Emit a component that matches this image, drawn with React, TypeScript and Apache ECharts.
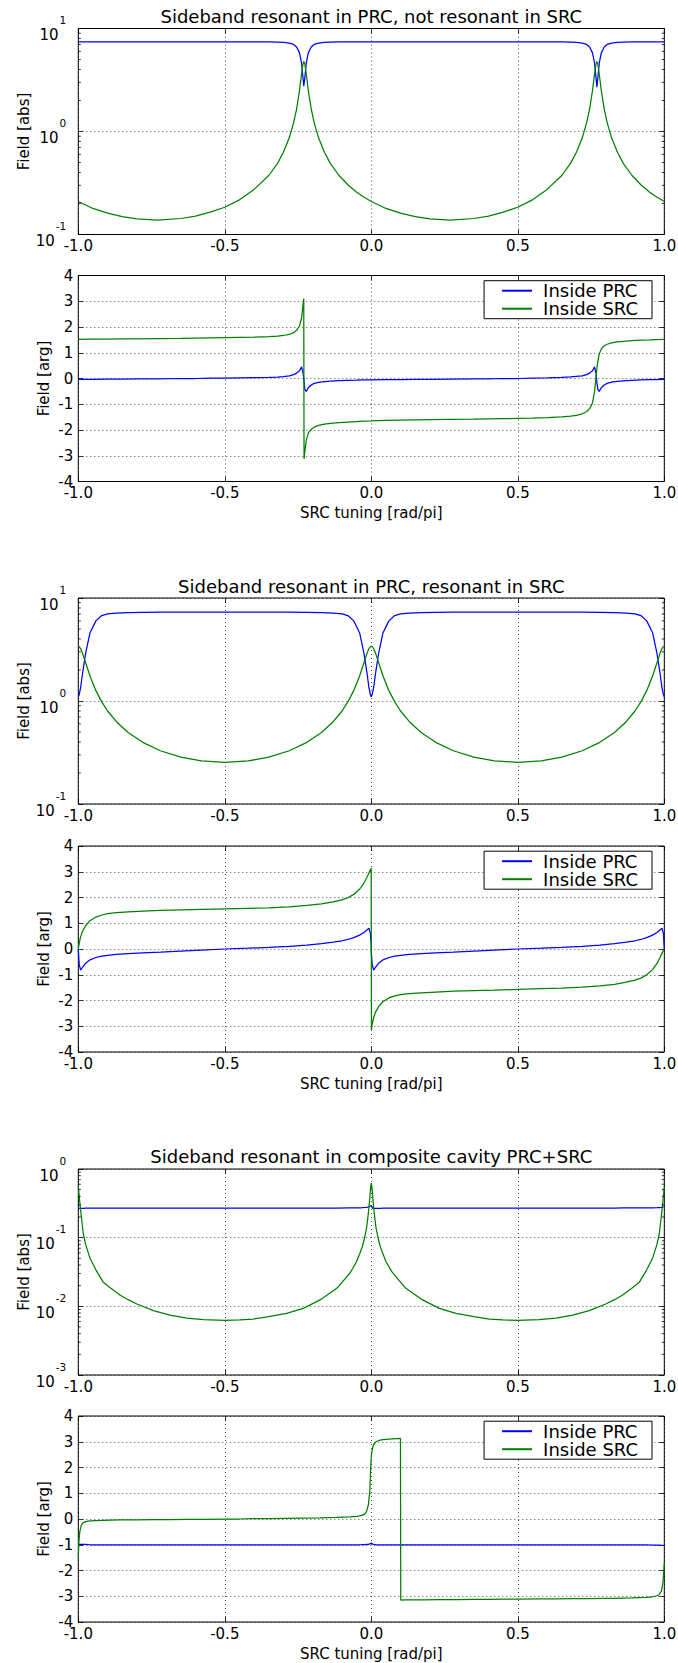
import React, { useEffect, useRef } from 'react';
import * as echarts from 'echarts';

const FONT = 'DejaVu Sans';
const BLUE = '#0000ff';
const GREEN = '#008000';

const titles = [
  'Sideband resonant in PRC, not resonant in SRC',
  'Sideband resonant in PRC, resonant in SRC',
  'Sideband resonant in composite cavity PRC+SRC',
];
const legendNames = ['Inside PRC', 'Inside SRC'];
const xName = 'SRC tuning [rad/pi]';
const absName = 'Field [abs]';
const argName = 'Field [arg]';

// ---------- figure 1 ----------
const xA = [
  -1.0, -0.95, -0.9, -0.85, -0.8, -0.73, -0.65, -0.6, -0.55, -0.5,
  -0.45, -0.4, -0.35, -0.32, -0.3, -0.28, -0.265, -0.255, -0.245, -0.238,
  -0.233, -0.2305, -0.2295, -0.227, -0.222, -0.215, -0.205, -0.195, -0.18, -0.16,
  -0.14, -0.11, -0.08, -0.05, -0.03, 0.0, 0.05, 0.1, 0.15, 0.2,
  0.27, 0.35, 0.4, 0.45, 0.5, 0.55, 0.6, 0.65, 0.68, 0.7,
  0.72, 0.735, 0.745, 0.755, 0.762, 0.767, 0.77, 0.773, 0.778, 0.785,
  0.795, 0.805, 0.82, 0.84, 0.86, 0.89, 0.92, 0.95, 0.97, 1.0,
];
const p1Blue = [
  7.42, 7.42, 7.42, 7.42, 7.42, 7.42, 7.42, 7.42, 7.42, 7.42,
  7.42, 7.42, 7.42, 7.38, 7.32, 7.2, 7.0, 6.6, 5.8, 4.6,
  3.3, 2.75, 2.75, 3.3, 4.6, 5.8, 6.6, 7.0, 7.2, 7.32,
  7.38, 7.42, 7.42, 7.42, 7.42, 7.42, 7.42, 7.42, 7.42, 7.42,
  7.42, 7.42, 7.42, 7.42, 7.42, 7.42, 7.42, 7.42, 7.38, 7.32,
  7.2, 7.0, 6.6, 5.8, 4.6, 3.3, 2.7, 3.3, 4.6, 5.8,
  6.6, 7.0, 7.2, 7.32, 7.38, 7.42, 7.42, 7.42, 7.42, 7.42,
];
const p1Green = [
  0.209, 0.179, 0.161, 0.149, 0.142, 0.138, 0.143, 0.151, 0.165, 0.184,
  0.217, 0.274, 0.374, 0.49, 0.628, 0.868, 1.22, 1.65, 2.5, 3.61,
  4.55, 4.78, 4.78, 4.55, 3.61, 2.5, 1.65, 1.22, 0.868, 0.628,
  0.49, 0.374, 0.304, 0.257, 0.235, 0.209, 0.179, 0.161, 0.149, 0.142,
  0.138, 0.143, 0.151, 0.165, 0.184, 0.217, 0.274, 0.374, 0.49, 0.628,
  0.868, 1.22, 1.65, 2.5, 3.61, 4.55, 4.79, 4.55, 3.61, 2.5,
  1.65, 1.22, 0.868, 0.628, 0.49, 0.374, 0.304, 0.257, 0.235, 0.209,
];
const p2Blue = [
  -0.03, -0.03, -0.02, -0.02, -0.01, -0.01, 0.0, 0.0, 0.01, 0.01,
  0.02, 0.03, 0.04, 0.05, 0.07, 0.1, 0.15, 0.21, 0.3, 0.45,
  0.22, 0.0, -0.12, -0.42, -0.5, -0.36, -0.25, -0.19, -0.15, -0.12,
  -0.1, -0.08, -0.07, -0.06, -0.05, -0.05, -0.04, -0.04, -0.03, -0.03,
  -0.02, -0.01, -0.01, 0.0, 0.0, 0.01, 0.02, 0.04, 0.06, 0.08,
  0.1, 0.15, 0.21, 0.3, 0.45, 0.2, -0.15, -0.42, -0.5, -0.36,
  -0.25, -0.19, -0.14, -0.11, -0.09, -0.07, -0.05, -0.04, -0.04, -0.03,
];
const p2Green = [
  1.52, 1.53, 1.53, 1.54, 1.54, 1.55, 1.56, 1.57, 1.58, 1.59,
  1.6, 1.61, 1.63, 1.65, 1.67, 1.71, 1.78, 1.87, 2.05, 2.35,
  2.85, 3.1, -3.12, -2.85, -2.4, -2.12, -1.97, -1.89, -1.82, -1.77,
  -1.74, -1.71, -1.69, -1.67, -1.66, -1.65, -1.63, -1.62, -1.61, -1.6,
  -1.59, -1.58, -1.57, -1.56, -1.55, -1.54, -1.52, -1.49, -1.46, -1.43,
  -1.37, -1.28, -1.17, -0.95, -0.5, 0.05, 0.4, 0.65, 0.95, 1.15,
  1.27, 1.33, 1.38, 1.42, 1.44, 1.47, 1.49, 1.5, 1.51, 1.52,
];

// ---------- figure 2 ----------
const xB = [
  -1.0, -0.997, -0.992, -0.985, -0.975, -0.96, -0.94, -0.92, -0.9, -0.87,
  -0.83, -0.78, -0.72, -0.65, -0.58, -0.5, -0.42, -0.35, -0.28, -0.22,
  -0.17, -0.13, -0.1, -0.08, -0.06, -0.04, -0.025, -0.015, -0.008, -0.003,
  -0.0005, 0.0005, 0.003, 0.008, 0.015, 0.025, 0.04, 0.06, 0.08, 0.1,
  0.13, 0.17, 0.22, 0.28, 0.35, 0.42, 0.5, 0.58, 0.65, 0.72,
  0.78, 0.83, 0.87, 0.9, 0.92, 0.94, 0.96, 0.975, 0.985, 0.992,
  0.997, 1.0,
];
const p3Blue = [
  1.1, 1.15, 1.35, 1.9, 2.9, 4.6, 6.0, 6.75, 7.0, 7.15,
  7.22, 7.27, 7.3, 7.3, 7.3, 7.3, 7.3, 7.3, 7.3, 7.27,
  7.22, 7.15, 7.0, 6.75, 6.0, 4.6, 2.9, 1.9, 1.35, 1.15,
  1.1, 1.1, 1.15, 1.35, 1.9, 2.9, 4.6, 6.0, 6.75, 7.0,
  7.15, 7.22, 7.27, 7.3, 7.3, 7.3, 7.3, 7.3, 7.3, 7.3,
  7.27, 7.22, 7.15, 7.0, 6.75, 6.0, 4.6, 2.9, 1.9, 1.35,
  1.15, 1.1,
];
const p3Green = [
  3.4, 3.38, 3.23, 2.88, 2.35, 1.75, 1.26, 0.98, 0.8, 0.63,
  0.495, 0.397, 0.329, 0.285, 0.262, 0.254, 0.262, 0.285, 0.329, 0.397,
  0.495, 0.63, 0.8, 0.98, 1.26, 1.75, 2.35, 2.88, 3.23, 3.38,
  3.4, 3.4, 3.38, 3.23, 2.88, 2.35, 1.75, 1.26, 0.98, 0.8,
  0.63, 0.495, 0.397, 0.329, 0.285, 0.262, 0.254, 0.262, 0.285, 0.329,
  0.397, 0.495, 0.63, 0.8, 0.98, 1.26, 1.75, 2.35, 2.88, 3.23,
  3.38, 3.4,
];
const p4Blue = [
  0.0, -0.6, -0.82, -0.7, -0.55, -0.42, -0.33, -0.28, -0.25, -0.21,
  -0.18, -0.15, -0.12, -0.08, -0.04, 0.0, 0.03, 0.06, 0.1, 0.15,
  0.21, 0.27, 0.32, 0.37, 0.44, 0.54, 0.64, 0.74, 0.81, 0.6,
  0.2, -0.2, -0.6, -0.82, -0.7, -0.55, -0.42, -0.33, -0.28, -0.25,
  -0.21, -0.18, -0.15, -0.12, -0.08, -0.04, 0.0, 0.03, 0.06, 0.1,
  0.15, 0.21, 0.27, 0.32, 0.37, 0.44, 0.54, 0.64, 0.74, 0.81,
  0.6, 0.0,
];
const p4Green = [
  0.0, 0.22, 0.48, 0.7, 0.9, 1.1, 1.24, 1.32, 1.37, 1.41,
  1.44, 1.47, 1.5, 1.52, 1.54, 1.56, 1.58, 1.6, 1.64, 1.69,
  1.75, 1.83, 1.91, 1.99, 2.12, 2.32, 2.56, 2.78, 2.95, 3.08,
  3.14, -3.14, -2.92, -2.66, -2.44, -2.24, -2.04, -1.9, -1.82, -1.77,
  -1.73, -1.7, -1.67, -1.64, -1.62, -1.6, -1.57, -1.54, -1.52, -1.48,
  -1.43, -1.37, -1.29, -1.21, -1.13, -1.0, -0.8, -0.56, -0.34, -0.17,
  -0.04, 0.0,
];

// ---------- figure 3 ----------
const xC = [
  -1.0, -0.998, -0.995, -0.99, -0.983, -0.975, -0.96, -0.94, -0.915, -0.89,
  -0.858, -0.83, -0.8, -0.744, -0.687, -0.63, -0.573, -0.5, -0.45, -0.403,
  -0.35, -0.289, -0.232, -0.175, -0.118, -0.073, -0.05, -0.039, -0.03, -0.022,
  -0.016, -0.01, -0.005, -0.002, 0.0, 0.002, 0.005, 0.01, 0.016, 0.022,
  0.03, 0.04, 0.05, 0.07, 0.0995, 0.1005, 0.118, 0.175, 0.232, 0.289,
  0.35, 0.403, 0.45, 0.5, 0.573, 0.63, 0.687, 0.744, 0.8, 0.83,
  0.858, 0.89, 0.915, 0.94, 0.96, 0.975, 0.983, 0.99, 0.995, 0.998,
  1.0,
];
const p5Blue = [
  0.266, 0.266, 0.267, 0.267, 0.268, 0.269, 0.269, 0.27, 0.27, 0.27,
  0.27, 0.27, 0.27, 0.27, 0.27, 0.27, 0.27, 0.27, 0.27, 0.27,
  0.27, 0.27, 0.27, 0.27, 0.27, 0.271, 0.271, 0.272, 0.273, 0.275,
  0.277, 0.28, 0.286, 0.292, 0.295, 0.285, 0.266, 0.266, 0.267, 0.268,
  0.268, 0.269, 0.269, 0.269, 0.27, 0.27, 0.27, 0.27, 0.27, 0.27,
  0.27, 0.27, 0.27, 0.27, 0.27, 0.27, 0.27, 0.27, 0.27, 0.27,
  0.271, 0.271, 0.271, 0.272, 0.272, 0.273, 0.274, 0.276, 0.278, 0.28,
  0.281,
];
const p5Green = [
  0.55, 0.45, 0.33, 0.21, 0.115, 0.08, 0.05, 0.034, 0.0225, 0.0185,
  0.0146, 0.0125, 0.0108, 0.00865, 0.00746, 0.00676, 0.00639, 0.00625, 0.00635, 0.00653,
  0.0071, 0.0079, 0.00935, 0.0124, 0.0183, 0.0303, 0.045, 0.0594, 0.075, 0.104,
  0.14, 0.228, 0.38, 0.55, 0.625, 0.55, 0.38, 0.228, 0.14, 0.104,
  0.075, 0.058, 0.045, 0.032, 0.0225, 0.0222, 0.0183, 0.0124, 0.00935, 0.0079,
  0.0071, 0.00653, 0.00635, 0.00625, 0.00639, 0.00676, 0.00746, 0.00865, 0.0108, 0.0125,
  0.0146, 0.0185, 0.0225, 0.034, 0.05, 0.08, 0.115, 0.21, 0.33, 0.45,
  0.55,
];
const p6Blue = [
  -0.99, -0.99, -0.99, -0.99, -0.99, -0.99, -1.0, -1.0, -1.0, -1.0,
  -1.0, -1.0, -1.0, -1.0, -1.0, -1.0, -1.0, -1.0, -1.0, -1.0,
  -1.0, -1.0, -1.0, -1.0, -1.0, -1.0, -1.0, -1.0, -0.995, -0.995,
  -0.99, -0.985, -0.97, -0.95, -0.93, -0.95, -0.98, -0.99, -1.0, -1.0,
  -1.0, -1.0, -1.0, -1.0, -1.0, -1.0, -1.0, -1.0, -1.0, -1.0,
  -1.0, -1.0, -1.0, -1.0, -1.0, -1.0, -1.0, -1.0, -1.0, -1.0,
  -1.0, -1.0, -1.0, -1.0, -1.01, -1.01, -1.01, -1.02, -1.02, -1.02,
  -1.02,
];
const p6Green = [
  -1.5, -0.9, -0.5, -0.25, -0.14, -0.1, -0.07, -0.06, -0.05, -0.04,
  -0.035, -0.03, -0.03, -0.02, -0.02, -0.01, -0.01, 0.0, 0.0, 0.01,
  0.01, 0.02, 0.03, 0.04, 0.06, 0.08, 0.1, 0.12, 0.15, 0.2,
  0.3, 0.55, 1.1, 2.0, 2.45, 2.62, 2.79, 2.93, 3.0, 3.03,
  3.06, 3.08, 3.09, 3.11, 3.13, -3.15, -3.14, -3.14, -3.13, -3.13,
  -3.12, -3.12, -3.11, -3.11, -3.1, -3.1, -3.09, -3.09, -3.08, -3.08,
  -3.07, -3.06, -3.05, -3.04, -3.02, -2.98, -2.93, -2.8, -2.5, -2.1,
  -1.7,
];

// minor tick values of the log axes
const minorTicksA = [0.2, 0.3, 0.4, 0.5, 0.6, 0.7, 0.8, 0.9, 2, 3, 4, 5, 6, 7, 8, 9];
const minorTicksC = [
  0.002, 0.003, 0.004, 0.005, 0.006, 0.007, 0.008, 0.009,
  0.02, 0.03, 0.04, 0.05, 0.06, 0.07, 0.08, 0.09,
  0.2, 0.3, 0.4, 0.5, 0.6, 0.7, 0.8, 0.9,
];

// ---------- layout ----------
const GRID_LEFT = 78.3;
const GRID_RIGHT = 13.7;
const GRID_H = 206;
const gridTops = [28.5, 275.5, 598, 846, 1169, 1416];
const titleYs = [16.5, 586, 1156];
const TITLE_X = (GRID_LEFT + (678 - GRID_RIGHT)) / 2;

type Panel = {
  kind: 'abs' | 'arg';
  xs: number[];
  blue: number[];
  green: number[];
  min?: number;
  max?: number;
  minors?: number[];
};

const panels: Panel[] = [
  { kind: 'abs', xs: xA, blue: p1Blue, green: p1Green, min: 0.1, max: 10, minors: minorTicksA },
  { kind: 'arg', xs: xA, blue: p2Blue, green: p2Green },
  { kind: 'abs', xs: xB, blue: p3Blue, green: p3Green, min: 0.1, max: 10, minors: minorTicksA },
  { kind: 'arg', xs: xB, blue: p4Blue, green: p4Green },
  { kind: 'abs', xs: xC, blue: p5Blue, green: p5Green, min: 0.001, max: 1, minors: minorTicksC },
  { kind: 'arg', xs: xC, blue: p6Blue, green: p6Green },
];

const zip = (xs: number[], ys: number[]) => xs.map((x, i) => [x, ys[i]]);

const tickStyle = { color: '#000', width: 0.8 };
const gridLine = { color: '#000', width: 0.7, type: [1, 3] as number[] };
const txt = { color: '#000', fontFamily: FONT, fontSize: 15 };
const noLine = { show: false, onZero: false };

function buildOption() {
  const grid: any[] = [];
  const xAxis: any[] = [];
  const yAxis: any[] = [];
  const series: any[] = [];
  const legend: any[] = [];

  panels.forEach((p, i) => {
    grid.push({
      left: GRID_LEFT,
      right: GRID_RIGHT,
      top: gridTops[i],
      height: GRID_H,
      show: true,
      borderColor: '#000',
      borderWidth: 1,
      backgroundColor: 'transparent',
      containLabel: false,
      outerBoundsMode: 'none',
    });
    const isArg = p.kind === 'arg';
    xAxis.push({
      type: 'value',
      gridIndex: i,
      min: -1,
      max: 1,
      interval: 0.5,
      position: 'bottom',
      axisLine: noLine,
      axisTick: { show: true, inside: true, length: 5, lineStyle: tickStyle },
      axisLabel: {
        show: true,
        ...txt,
        margin: 4,
        showMinLabel: true,
        showMaxLabel: true,
        formatter: (v: number) => v.toFixed(1),
      },
      splitLine: { show: true, lineStyle: gridLine },
      name: isArg ? xName : '',
      nameLocation: 'middle',
      nameGap: 24,
      nameMoveOverlap: false,
      nameTextStyle: { ...txt },
    });
    xAxis.push({
      type: 'value',
      gridIndex: i,
      min: -1,
      max: 1,
      interval: 0.5,
      position: 'top',
      axisLine: noLine,
      axisTick: { show: true, inside: true, length: 5, lineStyle: tickStyle },
      axisLabel: { show: false },
      splitLine: { show: false },
    });
    if (isArg) {
      yAxis.push({
        type: 'value',
        gridIndex: i,
        min: -4,
        max: 4,
        interval: 1,
        position: 'left',
        axisLine: noLine,
        axisTick: { show: true, inside: true, length: 5, lineStyle: tickStyle },
        axisLabel: { show: true, ...txt, margin: 5, showMinLabel: true, showMaxLabel: true },
        splitLine: { show: true, lineStyle: gridLine },
        name: argName,
        nameLocation: 'middle',
        nameGap: 27,
        nameMoveOverlap: false,
        nameTextStyle: { ...txt },
      });
      yAxis.push({
        type: 'value',
        gridIndex: i,
        min: -4,
        max: 4,
        interval: 1,
        position: 'right',
        axisLine: noLine,
        axisTick: { show: true, inside: true, length: 5, lineStyle: tickStyle },
        axisLabel: { show: false },
        splitLine: { show: false },
      });
    } else {
      yAxis.push({
        type: 'log',
        logBase: 10,
        gridIndex: i,
        min: p.min,
        max: p.max,
        position: 'left',
        axisLine: noLine,
        axisTick: { show: true, inside: true, length: 5, lineStyle: tickStyle },
        axisLabel: {
          show: true,
          margin: 12,
          showMinLabel: true,
          showMaxLabel: true,
          formatter: (v: number) => `{b|10}{s|${Math.round(Math.log10(v))}}`,
          rich: {
            b: { fontSize: 15, fontFamily: FONT, color: '#000', lineHeight: 28, verticalAlign: 'bottom' },
            s: { fontSize: 10.5, fontFamily: FONT, color: '#000', verticalAlign: 'top', padding: [0, 0, 0, 1] },
          },
        },
        splitLine: { show: true, lineStyle: gridLine },
        name: absName,
        nameLocation: 'middle',
        nameGap: 47,
        nameMoveOverlap: false,
        nameTextStyle: { ...txt },
      });
      yAxis.push({
        type: 'log',
        logBase: 10,
        gridIndex: i,
        min: p.min,
        max: p.max,
        position: 'right',
        axisLine: noLine,
        axisTick: { show: true, inside: true, length: 5, lineStyle: tickStyle },
        axisLabel: { show: false },
        splitLine: { show: false },
      });
    }

    series.push({
      name: legendNames[0],
      type: 'line',
      xAxisIndex: 2 * i,
      yAxisIndex: 2 * i,
      data: zip(p.xs, p.blue),
      showSymbol: false,
      symbol: 'none',
      lineStyle: { color: BLUE, width: 1.25 },
      itemStyle: { color: BLUE },
      z: 3,
    });
    series.push({
      name: legendNames[1],
      type: 'line',
      xAxisIndex: 2 * i,
      yAxisIndex: 2 * i,
      data: zip(p.xs, p.green),
      showSymbol: false,
      symbol: 'none',
      lineStyle: { color: GREEN, width: 1.25 },
      itemStyle: { color: GREEN },
      z: 3,
    });

    if (!isArg && p.minors) {
      series.push({
        name: 'minor',
        type: 'custom',
        xAxisIndex: 2 * i,
        yAxisIndex: 2 * i,
        silent: true,
        clip: false,
        z: 4,
        data: p.minors.map((v) => [-1, v]),
        renderItem: (_params: any, api: any) => {
          const v = api.value(1);
          const l = api.coord([-1, v]);
          const r = api.coord([1, v]);
          return {
            type: 'group',
            children: [
              { type: 'line', shape: { x1: l[0], y1: l[1], x2: l[0] + 2.5, y2: l[1] }, style: { stroke: '#000', lineWidth: 0.8 } },
              { type: 'line', shape: { x1: r[0] - 2.5, y1: r[1], x2: r[0], y2: r[1] }, style: { stroke: '#000', lineWidth: 0.8 } },
            ],
          };
        },
      });
    }

    if (isArg) {
      legend.push({
        data: legendNames,
        orient: 'vertical',
        right: 26,
        top: gridTops[i] + 5.2,
        itemWidth: 30,
        itemHeight: 2,
        itemGap: 0,
        icon: 'rect',
        padding: [1, 14, 1, 18],
        borderColor: '#000',
        borderWidth: 1,
        borderRadius: 0,
        backgroundColor: '#fff',
        selectedMode: false,
        textStyle: { color: '#000', fontFamily: FONT, fontSize: 18, lineHeight: 18, padding: [0, 0, 0, 6] },
        z: 10,
      });
    }
  });

  const graphic = titles.map((t, k) => ({
    type: 'text',
    x: TITLE_X,
    y: titleYs[k],
    silent: true,
    style: {
      text: t,
      fontSize: 18,
      fontFamily: FONT,
      fill: '#000',
      align: 'center',
      verticalAlign: 'middle',
      textAlign: 'center',
      textVerticalAlign: 'middle',
    },
  }));

  return {
    animation: false,
    backgroundColor: '#fff',
    grid,
    xAxis,
    yAxis,
    series,
    legend,
    graphic,
  };
}

export default function App() {
  const ref = useRef<HTMLDivElement>(null);
  useEffect(() => {
    document.body.style.margin = '0';
    const chart = echarts.init(ref.current as HTMLDivElement, null, { renderer: 'svg' });
    chart.setOption(buildOption() as any);
    return () => {
      chart.dispose();
    };
  }, []);
  return <div ref={ref} style={{ width: 678, height: 1663 }} />;
}
